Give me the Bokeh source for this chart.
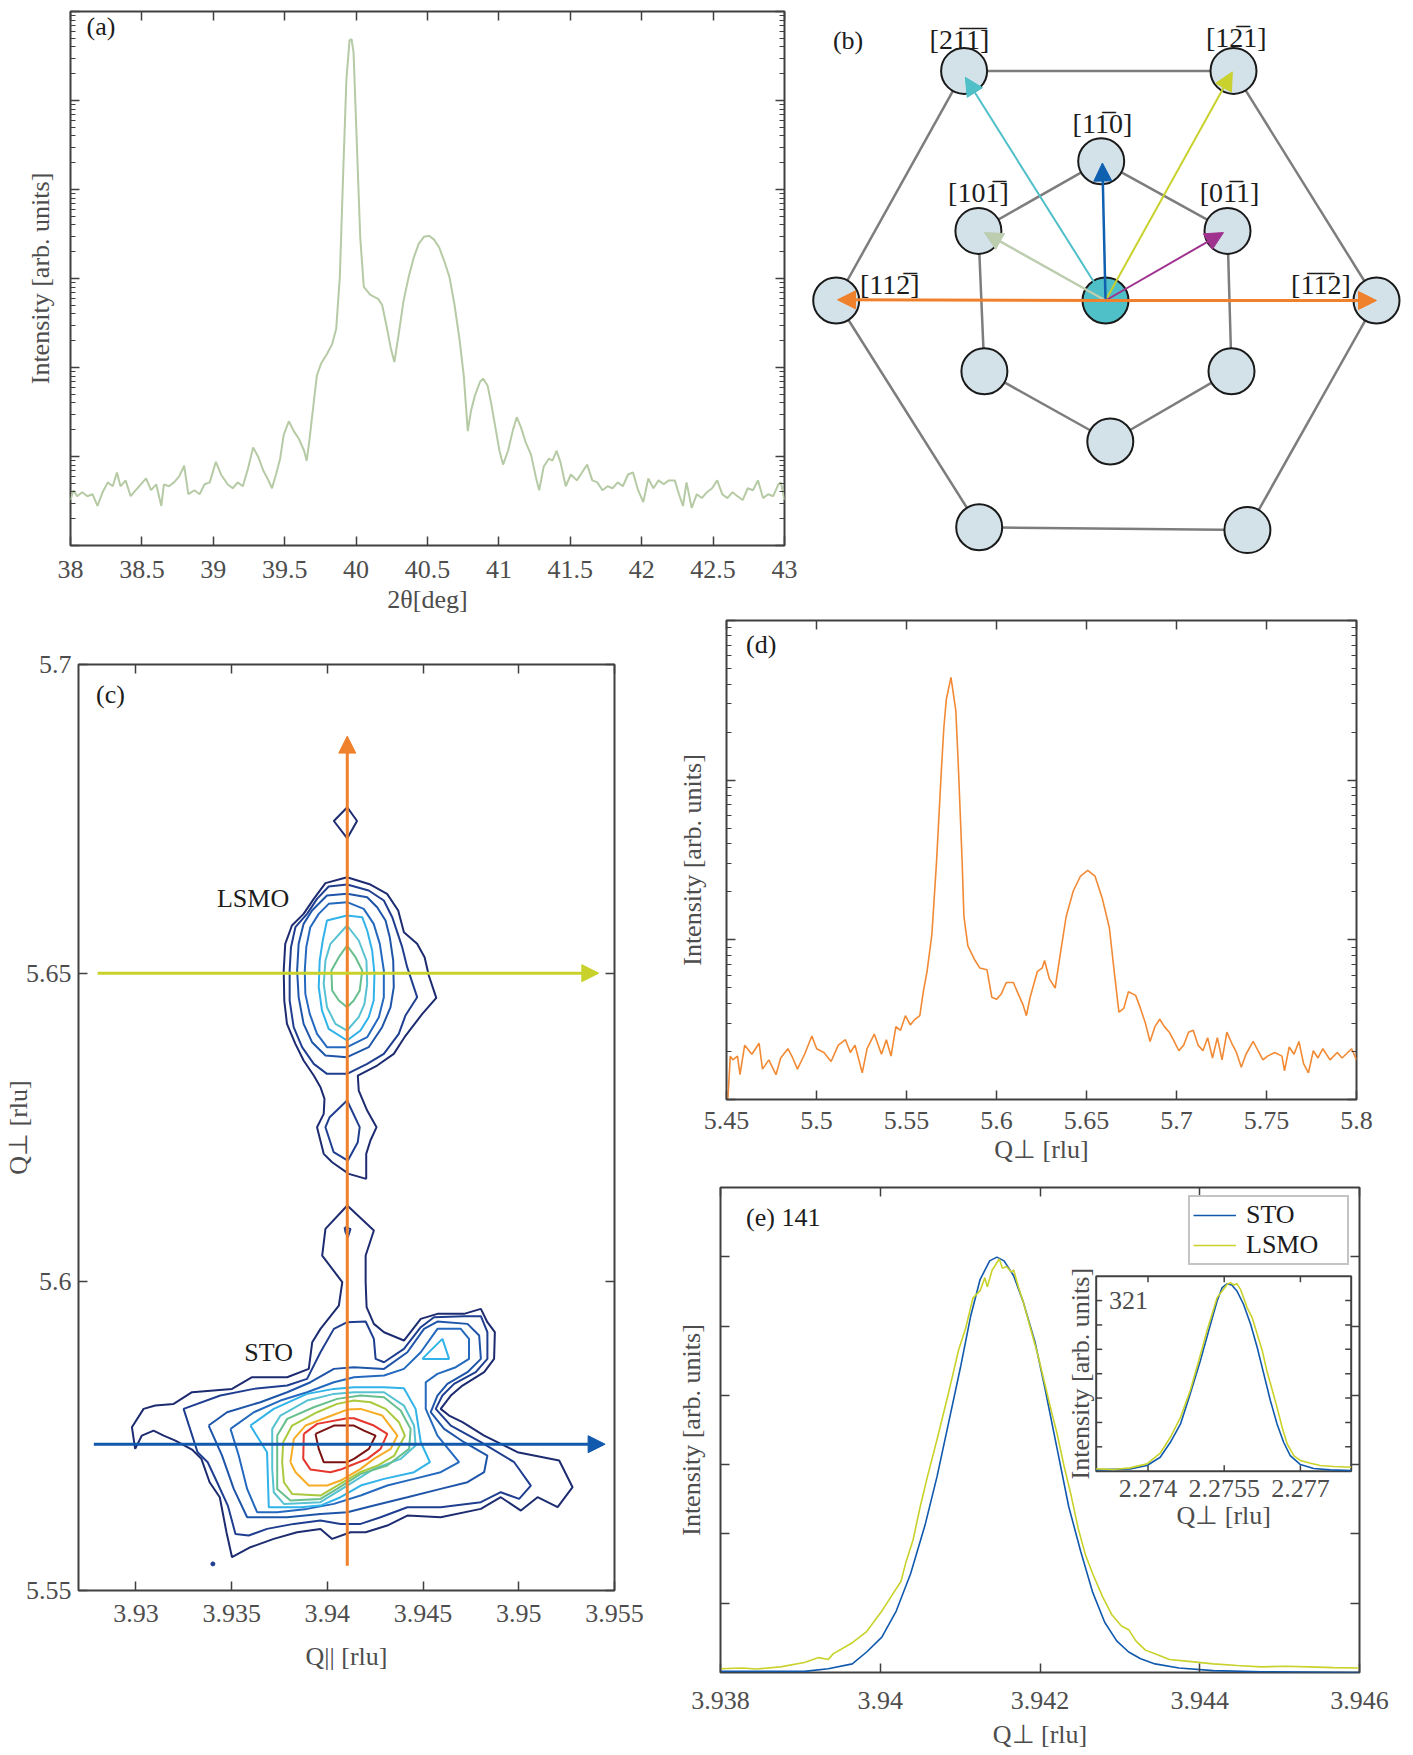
from bokeh.plotting import figure
from bokeh.layouts import row, column
from bokeh.models import (Range1d, LinearAxis, LogAxis, FixedTicker, LogTicker,
                          NumeralTickFormatter, Arrow, NormalHead, Legend, LegendItem)
from bokeh.core.properties import value
from bokeh.embed import file_html
from bokeh.resources import INLINE

# ---------------------------------------------------------------- data
# (a) 2theta scan: (2theta [deg], intensity)
A_SCAN = [
    (38.000, 3.24), (38.021, 4.18), (38.046, 3.58), (38.082, 3.97), (38.118, 3.58), (38.154, 3.77),
    (38.189, 2.78), (38.225, 3.97), (38.261, 5.12), (38.296, 4.63), (38.325, 6.61), (38.350, 4.63),
    (38.386, 5.39), (38.421, 3.58), (38.457, 4.18), (38.493, 4.87), (38.529, 5.67), (38.564, 4.18),
    (38.600, 4.87), (38.636, 2.78), (38.654, 4.87), (38.689, 4.63), (38.725, 5.12), (38.761, 5.97),
    (38.796, 7.87), (38.825, 3.77), (38.868, 4.18), (38.904, 3.77), (38.939, 4.87), (38.975, 5.12),
    (39.018, 8.71), (39.054, 6.28), (39.100, 4.87), (39.136, 4.40), (39.171, 5.12), (39.207, 4.63),
    (39.243, 7.32), (39.279, 12.6), (39.314, 9.95), (39.350, 6.96), (39.386, 5.39), (39.411, 4.40),
    (39.439, 6.28), (39.468, 9.45), (39.493, 17.5), (39.529, 24.9), (39.564, 19.3), (39.600, 15.7),
    (39.636, 11.6), (39.654, 8.98), (39.671, 14.2), (39.696, 32.2), (39.725, 80.7), (39.754, 110),
    (39.796, 142), (39.832, 183), (39.861, 275), (39.886, 1037), (39.911, 18070), (39.932, 171000),
    (39.954, 474000), (39.968, 489700), (39.982, 349000), (40.004, 36980), (40.029, 2877),
    (40.054, 803), (40.100, 655), (40.154, 591), (40.182, 507), (40.211, 304), (40.243, 165),
    (40.268, 115), (40.296, 224), (40.332, 561), (40.368, 1037), (40.404, 1726), (40.439, 2468),
    (40.475, 2938), (40.511, 3027), (40.546, 2735), (40.582, 2229), (40.618, 1560), (40.654, 1037),
    (40.689, 507), (40.725, 202), (40.754, 80.7), (40.768, 39.5), (40.782, 19.3), (40.804, 32.2),
    (40.832, 48.4), (40.868, 69.2), (40.889, 75.1), (40.921, 62.5), (40.946, 39.5), (40.975, 21.4),
    (41.004, 11.6), (41.029, 8.11), (41.064, 11.6), (41.100, 20.3), (41.125, 27.6), (41.154, 21.4),
    (41.189, 14.2), (41.225, 10.5), (41.261, 5.67), (41.282, 4.18), (41.314, 7.71), (41.350, 9.45),
    (41.375, 8.98), (41.404, 11.6), (41.432, 8.53), (41.468, 4.63), (41.504, 6.28), (41.546, 5.39),
    (41.582, 6.61), (41.618, 8.11), (41.654, 5.39), (41.689, 5.12), (41.725, 4.18), (41.761, 4.63),
    (41.796, 4.40), (41.832, 5.12), (41.868, 4.63), (41.904, 6.28), (41.939, 6.61), (41.975, 4.18),
    (42.011, 3.07), (42.046, 5.67), (42.082, 4.40), (42.118, 5.39), (42.154, 4.87), (42.189, 5.39),
    (42.232, 5.39), (42.261, 3.77), (42.289, 2.78), (42.314, 5.12), (42.350, 2.64), (42.386, 3.77),
    (42.421, 3.41), (42.457, 3.97), (42.493, 4.40), (42.529, 5.39), (42.564, 3.77), (42.600, 3.41),
    (42.636, 3.97), (42.671, 3.58), (42.707, 3.24), (42.743, 4.40), (42.779, 4.18), (42.814, 5.39),
    (42.850, 3.41), (42.886, 3.77), (42.921, 3.58), (42.957, 4.87), (42.975, 5.12), (43.000, 3.24),
]
A_XTICKS = [38, 38.5, 39, 39.5, 40, 40.5, 41, 41.5, 42, 42.5, 43]

# (b) stereographic sketch, node positions (diagram units, centre node at origin)
NODE_X = [-141.4, 128.0, -4.3, -127.1, 122.0, -269.3, 0.0, 271.0, -121.1, 126.0, 4.8, -126.3, 141.9]
NODE_Y = [229.6, 229.6, 139.3, 69.6, 69.6, 0.0, 0.0, 0.0, -70.7, -70.7, -141.0, -226.8, -229.6]
CENTER_NODE = 6
EDGES = [(0, 1), (1, 7), (7, 12), (12, 11), (11, 5), (5, 0),
         (3, 2), (2, 4), (4, 9), (9, 10), (10, 8), (8, 3)]
B_ARROW_TIPS = [(-140.2, 223.2), (126.8, 228.6), (-3.1, 137.5), (-121.1, 67.9),
                (118.0, 67.9), (-268.0, 0.7), (271.0, 0.0)]
B_LABELS = ["[21\u03051\u0305]", "[12\u03051]", "[11\u03050]", "[101\u0305]",
            "[01\u03051]", "[112\u0305]", "[1\u03051\u03052]"]
B_LABEL_X = [-146.1, 130.8, -3.1, -127.1, 124.0, -215.7, 215.4]
B_LABEL_Y = [260.7, 263.2, 177.0, 108.0, 108.0, 16.0, 16.0]

# (c) reciprocal space map contours: (Q_par, Q_perp) vertices, level index 1..11
LSMO_C1 = [(3.94103, 5.66555), (3.94225, 5.66436), (3.94312, 5.66285), (3.94370, 5.66015), (3.94400, 5.65664),
           (3.94469, 5.65475), (3.94508, 5.65259), (3.94530, 5.64962), (3.94569, 5.64600), (3.94496, 5.64341),
           (3.94403, 5.63963), (3.94347, 5.63693), (3.94260, 5.63504), (3.94159, 5.63342), (3.94164, 5.63099),
           (3.94208, 5.62775), (3.94257, 5.62505), (3.94225, 5.62289), (3.94203, 5.62073), (3.94203, 5.61668),
           (3.94112, 5.61749), (3.94025, 5.61938), (3.93981, 5.62073), (3.93946, 5.62505), (3.93981, 5.62721),
           (3.93985, 5.62964), (3.93964, 5.63153), (3.93929, 5.63342), (3.93876, 5.63585), (3.93833, 5.63855),
           (3.93789, 5.64179), (3.93775, 5.64557), (3.93772, 5.65043), (3.93780, 5.65475), (3.93815, 5.65772),
           (3.93876, 5.65961), (3.93929, 5.66204), (3.93990, 5.66458)]
LSMO_C2 = [(3.94103, 5.66436), (3.94216, 5.66339), (3.94295, 5.66177), (3.94339, 5.65907), (3.94365, 5.65664),
           (3.94391, 5.65421), (3.94417, 5.65097), (3.94469, 5.64611), (3.94408, 5.64314), (3.94373, 5.64017),
           (3.94295, 5.63693), (3.94208, 5.63531), (3.94103, 5.63369), (3.93998, 5.63369), (3.93929, 5.63531),
           (3.93868, 5.63801), (3.93824, 5.64125), (3.93803, 5.64557), (3.93803, 5.65043), (3.93810, 5.65421),
           (3.93833, 5.65745), (3.93894, 5.65961), (3.93946, 5.66204), (3.94007, 5.66404)]
LSMO_C3 = [(3.94103, 5.66285), (3.94208, 5.66231), (3.94260, 5.66069), (3.94304, 5.65853), (3.94326, 5.65583),
           (3.94344, 5.65205), (3.94347, 5.64773), (3.94330, 5.64449), (3.94286, 5.64125), (3.94216, 5.63801),
           (3.94103, 5.63639), (3.93990, 5.63666), (3.93920, 5.63882), (3.93876, 5.64179), (3.93850, 5.64611),
           (3.93842, 5.65043), (3.93850, 5.65475), (3.93876, 5.65799), (3.93920, 5.66015), (3.93998, 5.66258)]
LSMO_C4 = [(3.94103, 5.66150), (3.94190, 5.66042), (3.94242, 5.65799), (3.94274, 5.65475), (3.94295, 5.65043),
           (3.94295, 5.64611), (3.94269, 5.64287), (3.94208, 5.63963), (3.94103, 5.63801), (3.93998, 5.63801),
           (3.93946, 5.64017), (3.93908, 5.64341), (3.93885, 5.64665), (3.93882, 5.65043), (3.93890, 5.65421),
           (3.93911, 5.65745), (3.93955, 5.65961), (3.94007, 5.66123)]
LSMO_C5 = [(3.94103, 5.65934), (3.94182, 5.65907), (3.94208, 5.65691), (3.94234, 5.65367), (3.94246, 5.64989),
           (3.94242, 5.64557), (3.94216, 5.64287), (3.94173, 5.64071), (3.94103, 5.63909), (3.94007, 5.64098),
           (3.93972, 5.64395), (3.93955, 5.64773), (3.93960, 5.65205), (3.93976, 5.65529), (3.93998, 5.65853)]
LSMO_C6 = [(3.94103, 5.65772), (3.94164, 5.65529), (3.94204, 5.65205), (3.94208, 5.64827), (3.94194, 5.64503),
           (3.94164, 5.64287), (3.94103, 5.64071), (3.94042, 5.64179), (3.93998, 5.64449), (3.93981, 5.64827),
           (3.93990, 5.65205), (3.94016, 5.65475)]
LSMO_C7 = [(3.94103, 5.65448), (3.94147, 5.65259), (3.94182, 5.65043), (3.94169, 5.64719), (3.94138, 5.64557),
           (3.94103, 5.64449), (3.94060, 5.64557), (3.94025, 5.64719), (3.94021, 5.65043), (3.94060, 5.65259)]
LSMO_TAIL = [(3.94103, 5.62937), (3.94169, 5.62505), (3.94159, 5.62262), (3.94107, 5.61965), (3.94033, 5.62100),
             (3.93990, 5.62505), (3.94012, 5.62667)]
TOP_DIAMOND = [(3.94104, 5.67687), (3.94155, 5.67465), (3.94104, 5.67185), (3.94034, 5.67465)]

STO_C1 = [(3.94104, 5.61236), (3.94243, 5.60831), (3.94200, 5.60426), (3.94200, 5.59994), (3.94205, 5.59589),
          (3.94243, 5.59319), (3.94296, 5.59184), (3.94400, 5.59049), (3.94488, 5.59400), (3.94575, 5.59481),
          (3.94714, 5.59481), (3.94802, 5.59562), (3.94836, 5.59346), (3.94875, 5.59184), (3.94871, 5.58752),
          (3.94819, 5.58536), (3.94706, 5.58320), (3.94645, 5.58158), (3.94592, 5.57942), (3.94636, 5.57834),
          (3.94706, 5.57726), (3.94819, 5.57510), (3.94993, 5.57240), (3.95211, 5.57105), (3.95281, 5.56673),
          (3.95203, 5.56349), (3.95098, 5.56511), (3.95011, 5.56295), (3.94906, 5.56511), (3.94802, 5.56322),
          (3.94592, 5.56187), (3.94418, 5.56214), (3.94313, 5.56052), (3.94200, 5.55944), (3.94121, 5.55944),
          (3.94025, 5.55836), (3.93964, 5.55998), (3.93842, 5.55944), (3.93720, 5.55836), (3.93598, 5.55701),
          (3.93502, 5.55539), (3.93473, 5.55944), (3.93438, 5.56511), (3.93385, 5.56754), (3.93342, 5.57132),
          (3.93293, 5.57283), (3.93206, 5.57429), (3.93145, 5.57510), (3.93092, 5.57591), (3.93031, 5.57510),
          (3.92996, 5.57294), (3.92979, 5.57645), (3.93040, 5.57942), (3.93101, 5.57996), (3.93197, 5.58023),
          (3.93293, 5.58212), (3.93502, 5.58266), (3.93607, 5.58455), (3.93790, 5.58455), (3.93903, 5.58590),
          (3.93921, 5.59022), (3.93964, 5.59238), (3.94060, 5.59616), (3.94078, 5.59994), (3.93973, 5.60426),
          (3.93990, 5.60858)]
STO_C2 = [(3.94104, 5.59346), (3.94200, 5.59357), (3.94243, 5.59076), (3.94252, 5.58752), (3.94296, 5.58698),
          (3.94400, 5.58914), (3.94488, 5.59265), (3.94557, 5.59427), (3.94714, 5.59443), (3.94802, 5.59443),
          (3.94836, 5.59184), (3.94836, 5.58752), (3.94775, 5.58536), (3.94662, 5.58347), (3.94601, 5.58158),
          (3.94566, 5.57942), (3.94645, 5.57672), (3.94802, 5.57402), (3.94976, 5.57078), (3.95063, 5.56700),
          (3.95002, 5.56484), (3.94906, 5.56592), (3.94802, 5.56430), (3.94592, 5.56349), (3.94418, 5.56349),
          (3.94278, 5.56187), (3.94174, 5.56079), (3.94069, 5.56079), (3.93964, 5.56133), (3.93825, 5.56079),
          (3.93685, 5.55998), (3.93589, 5.55890), (3.93520, 5.55917), (3.93480, 5.56376), (3.93424, 5.56754),
          (3.93375, 5.57078), (3.93322, 5.57240), (3.93249, 5.57942), (3.93441, 5.58158), (3.93616, 5.58266),
          (3.93790, 5.58320), (3.93894, 5.58428), (3.93964, 5.58860), (3.94034, 5.59238)]
STO_C3 = [(3.93380, 5.57672), (3.93476, 5.57888), (3.93650, 5.58050), (3.93790, 5.58212), (3.93912, 5.58374),
          (3.94034, 5.58590), (3.94139, 5.58617), (3.94296, 5.58590), (3.94418, 5.58860), (3.94505, 5.59238),
          (3.94575, 5.59357), (3.94732, 5.59319), (3.94793, 5.59130), (3.94802, 5.58752), (3.94732, 5.58536),
          (3.94627, 5.58347), (3.94575, 5.58158), (3.94540, 5.57888), (3.94610, 5.57618), (3.94714, 5.57402),
          (3.94836, 5.57186), (3.94819, 5.56916), (3.94732, 5.56754), (3.94592, 5.56646), (3.94418, 5.56511),
          (3.94243, 5.56376), (3.94104, 5.56268), (3.93964, 5.56241), (3.93790, 5.56187), (3.93581, 5.56187),
          (3.93511, 5.56646), (3.93450, 5.57186)]
STO_C4 = [(3.93494, 5.57618), (3.93616, 5.57888), (3.93755, 5.58077), (3.93894, 5.58212), (3.94034, 5.58374),
          (3.94139, 5.58455), (3.94296, 5.58482), (3.94400, 5.58590), (3.94488, 5.58860), (3.94575, 5.59238),
          (3.94697, 5.59238), (3.94740, 5.59076), (3.94740, 5.58752), (3.94671, 5.58617), (3.94575, 5.58509),
          (3.94514, 5.58374), (3.94514, 5.57942), (3.94575, 5.57510), (3.94688, 5.57078), (3.94592, 5.56916),
          (3.94453, 5.56808), (3.94313, 5.56700), (3.94174, 5.56538), (3.94034, 5.56403), (3.93894, 5.56322),
          (3.93738, 5.56268), (3.93633, 5.56268), (3.93581, 5.56646), (3.93537, 5.57186)]
STO_C5 = [(3.93598, 5.57672), (3.93720, 5.57942), (3.93894, 5.58185), (3.94034, 5.58266), (3.94139, 5.58293),
          (3.94296, 5.58293), (3.94400, 5.58277), (3.94461, 5.57942), (3.94488, 5.57402), (3.94536, 5.57078),
          (3.94453, 5.56916), (3.94296, 5.56808), (3.94174, 5.56700), (3.94069, 5.56511), (3.93964, 5.56376),
          (3.93860, 5.56349), (3.93694, 5.56349), (3.93685, 5.57240)]
STO_ISLAND = [(3.94496, 5.58752), (3.94601, 5.59076), (3.94636, 5.58752)]
STO_C6 = [(3.93712, 5.56970), (3.93712, 5.57618), (3.93755, 5.57834), (3.93894, 5.58077), (3.94034, 5.58185),
          (3.94139, 5.58212), (3.94296, 5.58212), (3.94400, 5.57996), (3.94453, 5.57672), (3.94461, 5.57348),
          (3.94383, 5.57132), (3.94243, 5.56970), (3.94104, 5.56700), (3.93964, 5.56430), (3.93773, 5.56403),
          (3.93720, 5.56592)]
STO_C7 = [(3.93738, 5.57078), (3.93738, 5.57510), (3.93790, 5.57780), (3.93929, 5.57969), (3.94051, 5.58104),
          (3.94174, 5.58158), (3.94296, 5.58131), (3.94383, 5.57915), (3.94435, 5.57618), (3.94427, 5.57294),
          (3.94313, 5.57024), (3.94174, 5.56889), (3.94051, 5.56646), (3.93964, 5.56484), (3.93807, 5.56457),
          (3.93738, 5.56646)]
STO_C8 = [(3.93764, 5.57078), (3.93769, 5.57402), (3.93816, 5.57672), (3.93947, 5.57888), (3.94051, 5.58023),
          (3.94139, 5.58077), (3.94226, 5.58050), (3.94304, 5.57942), (3.94374, 5.57726), (3.94405, 5.57510),
          (3.94350, 5.57186), (3.94261, 5.57020), (3.94174, 5.56920), (3.94069, 5.56730), (3.93964, 5.56538),
          (3.93816, 5.56565), (3.93773, 5.56754)]
STO_C9 = [(3.93807, 5.57078), (3.93825, 5.57456), (3.93886, 5.57672), (3.93999, 5.57807), (3.94104, 5.57931),
          (3.94174, 5.57942), (3.94287, 5.57834), (3.94366, 5.57510), (3.94331, 5.57294), (3.94243, 5.57132),
          (3.94174, 5.56970), (3.94069, 5.56781), (3.93999, 5.56700), (3.93903, 5.56700), (3.93834, 5.56916)]
STO_C10 = [(3.93877, 5.57537), (3.93947, 5.57699), (3.94104, 5.57791), (3.94139, 5.57791), (3.94243, 5.57672),
           (3.94313, 5.57537), (3.94278, 5.57294), (3.94209, 5.57132), (3.94121, 5.57024), (3.94069, 5.56959),
           (3.94016, 5.56916), (3.93912, 5.56959), (3.93874, 5.57132)]
STO_C11 = [(3.93938, 5.57537), (3.94034, 5.57672), (3.94139, 5.57672), (3.94191, 5.57591), (3.94252, 5.57510),
           (3.94217, 5.57294), (3.94139, 5.57132), (3.94104, 5.57078), (3.93981, 5.57078), (3.93955, 5.57294)]
STO_TAIL_LOOP = [(3.94090, 5.60885), (3.94121, 5.60858), (3.94107, 5.60723), (3.94095, 5.60804)]
STO_SPECK = (3.93402, 5.55431)

CONTOURS = [(1, TOP_DIAMOND), (1, LSMO_C1), (2, LSMO_C2), (2, LSMO_TAIL), (3, LSMO_C3), (4, LSMO_C4),
            (5, LSMO_C5), (6, LSMO_C6), (7, LSMO_C7),
            (1, STO_C1), (2, STO_C2), (2, STO_TAIL_LOOP), (3, STO_C3), (4, STO_C4), (5, STO_C5),
            (5, STO_ISLAND), (6, STO_C6), (7, STO_C7), (8, STO_C8), (9, STO_C9), (10, STO_C10), (11, STO_C11)]
# line-scan directions drawn on the map: (start, end)
C_SCAN_PERP = ((3.94104, 5.5540), (3.94104, 5.6884))
C_SCAN_LSMO = ((3.9280, 5.65), (3.95418, 5.65))
C_SCAN_STO = ((3.9278, 5.5737), (3.95451, 5.5737))

# (d) Q_perp scan: (Q_perp, intensity)
D_SCAN = [
    (5.4508, 1.02), (5.4521, 1.87), (5.4535, 1.77), (5.4561, 1.87), (5.4575, 1.43), (5.4601, 2.19),
    (5.4641, 1.92), (5.4681, 2.25), (5.4700, 1.55), (5.4735, 1.77), (5.4775, 1.43), (5.4801, 1.82),
    (5.4841, 2.08), (5.4868, 1.82), (5.4894, 1.55), (5.4934, 1.92), (5.4974, 2.50), (5.5001, 2.08),
    (5.5041, 1.97), (5.5081, 1.73), (5.5121, 2.19), (5.5161, 2.37), (5.5188, 1.97), (5.5214, 2.19),
    (5.5254, 1.47), (5.5281, 2.08), (5.5321, 2.57), (5.5361, 1.92), (5.5388, 2.37), (5.5414, 1.87),
    (5.5441, 2.86), (5.5467, 2.71), (5.5494, 3.35), (5.5521, 2.93), (5.5547, 3.18), (5.5574, 3.35),
    (5.5595, 4.86), (5.5614, 6.33), (5.5641, 10.8), (5.5667, 31.0), (5.5694, 117), (5.5707, 209),
    (5.5721, 320), (5.5747, 440), (5.5774, 273), (5.5787, 130), (5.5801, 52.7), (5.5809, 31.0),
    (5.5819, 14.0), (5.5841, 9.17), (5.5881, 7.42), (5.5907, 6.67), (5.5947, 6.50), (5.5974, 4.37),
    (5.6001, 4.25), (5.6027, 4.60), (5.6054, 5.40), (5.6094, 5.40), (5.6120, 4.60), (5.6147, 3.93),
    (5.6166, 3.35), (5.6187, 4.37), (5.6227, 6.33), (5.6254, 6.67), (5.6267, 7.42), (5.6294, 5.69),
    (5.6326, 4.99), (5.6352, 7.82), (5.6387, 14.0), (5.6427, 20.3), (5.6467, 25.1), (5.6507, 27.2),
    (5.6547, 25.1), (5.6587, 18.3), (5.6627, 11.9), (5.6654, 6.33), (5.6680, 3.53), (5.6707, 3.72),
    (5.6733, 4.73), (5.6773, 4.49), (5.6800, 3.72), (5.6827, 3.01), (5.6853, 2.31), (5.6880, 2.86),
    (5.6907, 3.18), (5.6933, 2.86), (5.6960, 2.64), (5.6987, 2.31), (5.7013, 2.02), (5.7040, 2.19),
    (5.7067, 2.64), (5.7093, 2.71), (5.7120, 2.19), (5.7147, 2.02), (5.7173, 2.44), (5.7200, 1.82),
    (5.7227, 2.44), (5.7253, 1.77), (5.7280, 2.64), (5.7307, 2.25), (5.7333, 1.97), (5.7360, 1.59),
    (5.7386, 1.92), (5.7426, 2.31), (5.7453, 2.02), (5.7480, 1.77), (5.7506, 1.87), (5.7546, 1.97),
    (5.7586, 1.87), (5.7600, 1.51), (5.7626, 2.13), (5.7653, 1.92), (5.7680, 2.31), (5.7706, 1.68),
    (5.7733, 1.47), (5.7760, 2.02), (5.7786, 1.82), (5.7813, 2.08), (5.7853, 1.77), (5.7893, 1.97),
    (5.7920, 1.82), (5.7973, 2.08), (5.8000, 1.77),
]
D_XTICKS = [5.45, 5.5, 5.55, 5.6, 5.65, 5.7, 5.75, 5.8]

# (e) 141 reflection, normalised intensity
E_STO = [
    (3.93800, 0.016), (3.93905, 0.016), (3.93935, 0.054), (3.93965, 0.124), (3.93983, 0.296),
    (3.94002, 0.511), (3.94020, 0.887), (3.94038, 1.425), (3.94056, 2.124), (3.94071, 2.823),
    (3.94086, 3.629), (3.94101, 4.435), (3.94113, 5.134), (3.94125, 5.672), (3.94137, 5.941),
    (3.94146, 5.995), (3.94155, 5.941), (3.94167, 5.726), (3.94179, 5.349), (3.94194, 4.758),
    (3.94206, 4.113), (3.94221, 3.253), (3.94236, 2.392), (3.94251, 1.747), (3.94266, 1.156),
    (3.94281, 0.726), (3.94296, 0.457), (3.94311, 0.296), (3.94326, 0.199), (3.94344, 0.124),
    (3.94374, 0.065), (3.94417, 0.027), (3.94477, 0.011), (3.94600, 0.000),
]
E_LSMO = [
    (3.93800, 0.054), (3.93827, 0.065), (3.93845, 0.050), (3.93875, 0.081), (3.93905, 0.145),
    (3.93923, 0.215), (3.93935, 0.188), (3.93941, 0.269), (3.93965, 0.430), (3.93983, 0.591),
    (3.94002, 0.887), (3.94014, 1.102), (3.94026, 1.317), (3.94032, 1.586), (3.94041, 1.909),
    (3.94050, 2.392), (3.94059, 2.823), (3.94071, 3.360), (3.94086, 4.059), (3.94098, 4.651),
    (3.94107, 4.973), (3.94116, 5.403), (3.94125, 5.511), (3.94131, 5.699), (3.94134, 5.565),
    (3.94140, 5.806), (3.94146, 5.914), (3.94149, 5.968), (3.94153, 5.833), (3.94158, 5.860),
    (3.94164, 5.780), (3.94167, 5.806), (3.94173, 5.565), (3.94179, 5.349), (3.94188, 4.973),
    (3.94197, 4.597), (3.94206, 4.167), (3.94215, 3.737), (3.94221, 3.468), (3.94230, 2.984),
    (3.94239, 2.554), (3.94248, 2.070), (3.94257, 1.694), (3.94266, 1.425), (3.94278, 1.102),
    (3.94290, 0.833), (3.94302, 0.672), (3.94311, 0.618), (3.94320, 0.457), (3.94332, 0.323),
    (3.94344, 0.269), (3.94362, 0.188), (3.94386, 0.161), (3.94417, 0.124), (3.94447, 0.102),
    (3.94477, 0.081), (3.94507, 0.091), (3.94537, 0.081), (3.94567, 0.070), (3.94600, 0.065),
]
E_XTICKS = [3.938, 3.94, 3.942, 3.944, 3.946]
E_YTICKS = [1, 2, 3, 4, 5, 6]

# (e) inset: 321 reflection
INSET_STO = [
    (2.27298, 0.055), (2.27365, 0.095), (2.27398, 0.232), (2.27424, 0.573), (2.27444, 1.187),
    (2.27464, 1.937), (2.27483, 3.165), (2.27503, 4.529), (2.27523, 6.030), (2.27536, 6.985),
    (2.27546, 7.531), (2.27556, 7.694), (2.27565, 7.640), (2.27575, 7.394), (2.27588, 6.849),
    (2.27602, 6.030), (2.27615, 5.075), (2.27628, 3.984), (2.27641, 2.892), (2.27654, 1.937),
    (2.27667, 1.187), (2.27680, 0.641), (2.27700, 0.273), (2.27726, 0.109), (2.27759, 0.055),
    (2.27800, 0.027),
]
INSET_LSMO = [
    (2.27298, 0.095), (2.27332, 0.068), (2.27365, 0.136), (2.27398, 0.300), (2.27424, 0.737),
    (2.27444, 1.392), (2.27464, 2.210), (2.27483, 3.301), (2.27500, 4.529), (2.27516, 5.757),
    (2.27526, 6.439), (2.27536, 7.121), (2.27546, 7.394), (2.27556, 7.667), (2.27562, 7.735),
    (2.27569, 7.640), (2.27575, 7.694), (2.27582, 7.462), (2.27588, 7.121), (2.27595, 6.712),
    (2.27605, 6.303), (2.27615, 5.621), (2.27625, 4.939), (2.27634, 4.120), (2.27644, 3.370),
    (2.27654, 2.619), (2.27664, 1.801), (2.27674, 1.119), (2.27687, 0.641), (2.27700, 0.437),
    (2.27720, 0.327), (2.27739, 0.232), (2.27766, 0.191), (2.27800, 0.164),
]
INSET_XLIM = (2.27298, 2.27800)
INSET_YLIM = (0.0, 8.0)
INSET_XTICKS = [2.274, 2.2755, 2.277]
INSET_YTICKS = [1, 2, 3, 4, 5, 6, 7]

# ---------------------------------------------------------------- styles
SERIF = "Liberation Serif"
FRAME = "#404040"
TICK_TXT = "#4d4d4d"
INK = "#1c1c1c"
FS = "26px"
LEVEL_COLORS = ["#1d2b70", "#1f3e90", "#1f55a8", "#2469be", "#31b3ea", "#57c2d2",
                "#68bf8e", "#a9c93e", "#f6ad25", "#e5372d", "#7b1313"]
C_ORANGE = "#f0812c"
C_LIME = "#c8d22b"
C_BLUE = "#1059ad"


def xs_of(pts):
    return [p[0] for p in pts]


def ys_of(pts):
    return [p[1] for p in pts]


def base_fig(w, h, xr, yr, borders, ylog=False):
    p = figure(width=w, height=h, x_range=Range1d(*xr), y_range=Range1d(*yr),
               y_axis_type="log" if ylog else "linear", output_backend="svg",
               toolbar_location=None, min_border_left=borders[0], min_border_right=borders[1],
               min_border_top=borders[2], min_border_bottom=borders[3])
    p.xgrid.visible = False
    p.ygrid.visible = False
    p.outline_line_color = FRAME
    p.outline_line_width = 2
    p.outline_line_alpha = 1.0
    p.background_fill_color = "white"
    p.border_fill_color = "white"
    return p


def style_axis(ax, show_labels=True, ticker=None, fmt=None, label=None,
               tick_standoff=8, label_standoff=5):
    if ticker is not None:
        ax.ticker = ticker
    if fmt is not None:
        ax.formatter = fmt
    ax.axis_line_color = None
    ax.major_tick_in = 9
    ax.major_tick_out = 0
    ax.minor_tick_in = 5
    ax.minor_tick_out = 0
    ax.major_tick_line_color = FRAME
    ax.minor_tick_line_color = FRAME
    ax.major_tick_line_width = 1.5
    ax.minor_tick_line_width = 1.2
    ax.major_label_text_font = SERIF
    ax.major_label_text_font_size = FS
    if show_labels:
        ax.major_label_text_color = TICK_TXT
        ax.major_label_standoff = tick_standoff
    else:
        ax.major_label_text_color = None
        ax.major_label_standoff = 0
    if label is not None:
        ax.axis_label = label
        ax.axis_label_text_font = SERIF
        ax.axis_label_text_font_size = FS
        ax.axis_label_text_font_style = "normal"
        ax.axis_label_text_color = TICK_TXT
        ax.axis_label_standoff = label_standoff


def mirror(p, xticker, yticker, ylog=False):
    top = LinearAxis()
    style_axis(top, False, xticker)
    p.add_layout(top, "above")
    right = LogAxis() if ylog else LinearAxis()
    style_axis(right, False, yticker)
    p.add_layout(right, "right")


def panel_text(p, x, y, txt, align="left", size=FS, **kw):
    p.text(x=[x], y=[y], text=[txt], text_font=value(SERIF), text_font_size=value(size),
           text_color=INK, text_align=align, text_baseline="middle", **kw)


# ---------------------------------------------------------------- (a)
pa = base_fig(810, 618, (38, 43), (1, 1e6), (70, 26, 11, 73), ylog=True)
xt_a = FixedTicker(ticks=A_XTICKS)
yt_a = LogTicker(num_minor_ticks=10)
style_axis(pa.xaxis[0], True, xt_a, NumeralTickFormatter(format="0.[000]"),
           "2\u03b8[deg]", tick_standoff=15, label_standoff=4)
style_axis(pa.yaxis[0], False, yt_a, None, "Intensity [arb. units]", label_standoff=16)
mirror(pa, xt_a, yt_a, ylog=True)
pa.line(xs_of(A_SCAN), ys_of(A_SCAN), line_color="#b6cba5", line_width=2)
panel_text(pa, 38.112, 6.8e5, "(a)")

# ---------------------------------------------------------------- (b)
pb = figure(width=603, height=618, x_range=Range1d(-295, 308), y_range=Range1d(-318, 300),
            output_backend="svg", toolbar_location=None, min_border=0,
            x_axis_location=None, y_axis_location=None)
pb.grid.visible = False
pb.outline_line_color = None
pb.background_fill_color = "white"
pb.border_fill_color = "white"
pb.segment(x0=[NODE_X[i] for i, j in EDGES], y0=[NODE_Y[i] for i, j in EDGES],
           x1=[NODE_X[j] for i, j in EDGES], y1=[NODE_Y[j] for i, j in EDGES],
           line_color="#7d7d7d", line_width=2.5)
node_fill = ["#4fbfc8" if k == CENTER_NODE else "#d3e1e8" for k in range(len(NODE_X))]
pb.circle(x=NODE_X, y=NODE_Y, radius=23, fill_color=node_fill, line_color="#1a1a1a", line_width=2)
arrow_colors = ["#4fbfc8", "#c9d12c", "#1060b0", "#bccdb0", "#a0328f", C_ORANGE, C_ORANGE]
arrow_widths = [2, 2, 2.5, 2.5, 2, 3, 3]
cx, cy = NODE_X[CENTER_NODE], NODE_Y[CENTER_NODE]
for (tx, ty), col, lw in zip(B_ARROW_TIPS, arrow_colors, arrow_widths):
    pb.add_layout(Arrow(end=NormalHead(size=18, fill_color=col, line_color=col, line_width=1),
                        x_start=cx, y_start=cy, x_end=tx, y_end=ty,
                        line_color=col, line_width=lw))
pb.text(x=B_LABEL_X, y=B_LABEL_Y, text=B_LABELS, text_font=value(SERIF), text_font_size=value("28px"),
        text_color=INK, text_align="center", text_baseline="middle")
panel_text(pb, -257.4, 260, "(b)", align="center")

# ---------------------------------------------------------------- (c)
pc = base_fig(660, 1137, (3.927, 3.955), (5.55, 5.7), (78, 46, 46, 165))
xt_c = FixedTicker(ticks=[3.93, 3.935, 3.94, 3.945, 3.95, 3.955])
yt_c = FixedTicker(ticks=[5.55, 5.6, 5.65, 5.7])
style_axis(pc.xaxis[0], True, xt_c, NumeralTickFormatter(format="0.[000]"),
           "Q|| [rlu]", tick_standoff=14, label_standoff=17)
style_axis(pc.yaxis[0], True, yt_c, NumeralTickFormatter(format="0.[00]"),
           "Q\u22a5 [rlu]", tick_standoff=7, label_standoff=-10)
mirror(pc, xt_c, yt_c)
pc.multi_line(xs=[xs_of(c) + [c[0][0]] for _, c in CONTOURS],
              ys=[ys_of(c) + [c[0][1]] for _, c in CONTOURS],
              line_color=[LEVEL_COLORS[lv - 1] for lv, _ in CONTOURS], line_width=2)
pc.scatter(x=[STO_SPECK[0]], y=[STO_SPECK[1]], size=4, color=LEVEL_COLORS[1])
for (s, e), col in [(C_SCAN_PERP, C_ORANGE), (C_SCAN_LSMO, C_LIME), (C_SCAN_STO, C_BLUE)]:
    pc.add_layout(Arrow(end=NormalHead(size=17, fill_color=col, line_color=col, line_width=1),
                        x_start=s[0], y_start=s[1], x_end=e[0], y_end=e[1],
                        line_color=col, line_width=3))
panel_text(pc, 3.92792, 5.6952, "(c)")
panel_text(pc, 3.93612, 5.66206, "LSMO", align="center")
panel_text(pc, 3.93693, 5.58855, "STO", align="center")

# ---------------------------------------------------------------- (d)
pd_ = base_fig(753, 552, (5.45, 5.8), (1, 1000), (66, 57, 2, 71), ylog=True)
xt_d = FixedTicker(ticks=D_XTICKS)
yt_d = LogTicker(num_minor_ticks=10)
style_axis(pd_.xaxis[0], True, xt_d, NumeralTickFormatter(format="0.[00]"),
           "Q\u22a5 [rlu]", tick_standoff=12, label_standoff=3)
style_axis(pd_.yaxis[0], False, yt_d, None, "Intensity [arb. units]", label_standoff=20)
mirror(pd_, xt_d, yt_d, ylog=True)
pd_.line(xs_of(D_SCAN), ys_of(D_SCAN), line_color="#f28a35", line_width=1.6)
panel_text(pd_, 5.4609, 708, "(d)")

# ---------------------------------------------------------------- (e)
E_W, E_H, E_B = 753, 585, (60, 54, 17, 83)
pe = base_fig(E_W, E_H, (3.938, 3.946), (0, 7), E_B)
xt_e = FixedTicker(ticks=E_XTICKS)
yt_e = FixedTicker(ticks=E_YTICKS)
style_axis(pe.xaxis[0], True, xt_e, NumeralTickFormatter(format="0.[000]"),
           "Q\u22a5 [rlu]", tick_standoff=19, label_standoff=8)
style_axis(pe.yaxis[0], False, yt_e, None, "Intensity [arb. units]", label_standoff=15)
mirror(pe, xt_e, yt_e)
r_sto = pe.line(xs_of(E_STO), ys_of(E_STO), line_color=C_BLUE, line_width=1.6)
r_lsmo = pe.line(xs_of(E_LSMO), ys_of(E_LSMO), line_color=C_LIME, line_width=1.6)
panel_text(pe, 3.93832, 6.57, "(e) 141")

# inset placed inside the frame (frame pixels: left, right, bottom, top)
fw = E_W - E_B[0] - E_B[1]
fh = E_H - E_B[2] - E_B[3]
IL, IR, IB, IT = 375.7, 630.7, 201.3, 396.3
sx = (INSET_XLIM[1] - INSET_XLIM[0]) / (IR - IL)
sy = (INSET_YLIM[1] - INSET_YLIM[0]) / (IT - IB)
pe.extra_x_ranges = {"inset": Range1d(INSET_XLIM[0] - IL * sx, INSET_XLIM[1] + (fw - IR) * sx)}
pe.extra_y_ranges = {"inset": Range1d(INSET_YLIM[0] - IB * sy, INSET_YLIM[1] + (fh - IT) * sy)}
ins = dict(x_range_name="inset", y_range_name="inset")
pe.quad(left=[INSET_XLIM[0]], right=[INSET_XLIM[1]], bottom=[INSET_YLIM[0]], top=[INSET_YLIM[1]],
        fill_color="white", line_color=FRAME, line_width=2, **ins)
tl = 6  # tick length, px
x0s, y0s, x1s, y1s = [], [], [], []
for t in INSET_XTICKS:
    x0s += [t, t]; x1s += [t, t]
    y0s += [INSET_YLIM[0], INSET_YLIM[1]]
    y1s += [INSET_YLIM[0] + tl * sy, INSET_YLIM[1] - tl * sy]
for t in INSET_YTICKS:
    y0s += [t, t]; y1s += [t, t]
    x0s += [INSET_XLIM[0], INSET_XLIM[1]]
    x1s += [INSET_XLIM[0] + tl * sx, INSET_XLIM[1] - tl * sx]
pe.segment(x0=x0s, y0=y0s, x1=x1s, y1=y1s, line_color=FRAME, line_width=1.5, **ins)
pe.line(xs_of(INSET_STO), ys_of(INSET_STO), line_color=C_BLUE, line_width=1.6, **ins)
pe.line(xs_of(INSET_LSMO), ys_of(INSET_LSMO), line_color=C_LIME, line_width=1.6, **ins)
pe.text(x=INSET_XTICKS, y=[INSET_YLIM[0]] * len(INSET_XTICKS), text=[f"{t:g}" for t in INSET_XTICKS],
        text_font=value(SERIF), text_font_size=value(FS), text_color=TICK_TXT,
        text_align="center", text_baseline="top", y_offset=9, **ins)
pe.text(x=[(INSET_XLIM[0] + INSET_XLIM[1]) / 2], y=[INSET_YLIM[0]], text=["Q\u22a5 [rlu]"],
        text_font=value(SERIF), text_font_size=value(FS), text_color=TICK_TXT,
        text_align="center", text_baseline="middle", y_offset=44, **ins)
pe.text(x=[INSET_XLIM[0]], y=[(INSET_YLIM[0] + INSET_YLIM[1]) / 2], text=["Intensity [arb. units]"],
        angle=1.5708, text_font=value(SERIF), text_font_size=value(FS), text_color=TICK_TXT,
        text_align="center", text_baseline="middle", x_offset=-16, **ins)
pe.text(x=[2.27323], y=[7.0], text=["321"], text_font=value(SERIF), text_font_size=value(FS),
        text_color=TICK_TXT, text_align="left", text_baseline="middle", **ins)

legend = Legend(items=[LegendItem(label="STO", renderers=[r_sto]),
                       LegendItem(label="LSMO", renderers=[r_lsmo])],
                location=(468, 407), orientation="vertical")
legend.label_text_font = SERIF
legend.label_text_font_size = FS
legend.label_text_color = INK
legend.border_line_color = "#8a8a8a"
legend.border_line_width = 2
legend.background_fill_color = "white"
legend.background_fill_alpha = 1.0
legend.padding = 3
legend.spacing = 0
legend.margin = 0
legend.glyph_width = 43
legend.glyph_height = 26
legend.label_height = 26
legend.label_width = 98
legend.label_standoff = 10
pe.add_layout(legend)

layout = column(row(column(pa), column(pb)), row(pc, column(row(pd_), row(pe))))
open("out.html", "w").write(file_html(layout, INLINE, "XRD characterisation"))
